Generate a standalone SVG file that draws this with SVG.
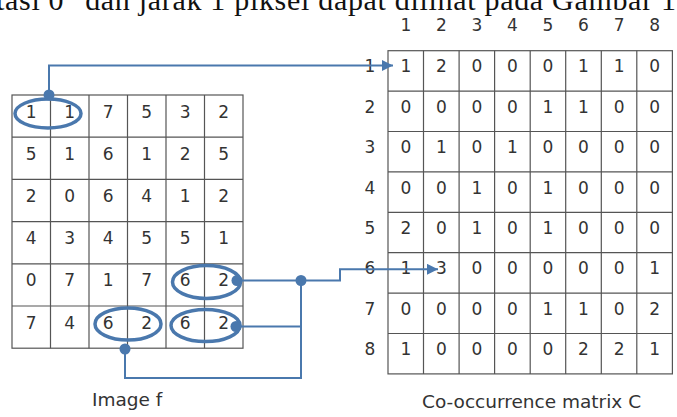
<svg xmlns="http://www.w3.org/2000/svg" width="677" height="417" viewBox="0 0 677 417">
<style>
  .grid { fill: #ffffff; stroke: #555555; stroke-width: 1.2; }
  .gl { stroke: #555555; stroke-width: 1.2; }
  .d { font-family: "DejaVu Sans", Verdana, sans-serif; font-size: 17px; fill: #333333; text-anchor: middle; }
  .lbl { font-family: "DejaVu Sans", Verdana, sans-serif; font-size: 18.5px; fill: #333333; }
  .head { font-family: "Liberation Serif", "Times New Roman", serif; font-size: 30px; fill: #111111; }
  .ell { fill: none; stroke: #4a78ad; stroke-width: 3.5; }
  .con { fill: none; stroke: #4a78ad; stroke-width: 2; }
  .dot { fill: #4a78ad; }
</style>
<defs>
  <marker id="ah" markerUnits="userSpaceOnUse" markerWidth="11" markerHeight="11" viewBox="0 0 10 10" refX="10" refY="5" orient="auto">
    <path d="M0,0 L10,5 L0,10 z" fill="#4a78ad"/>
  </marker>
</defs>
<rect width="677" height="417" fill="#ffffff"/>
<text class="head" x="-4" y="10" textLength="680" lengthAdjust="spacing">tasi 0° dan jarak 1 piksel dapat dilihat pada Gambar 1</text>

<g id="image-f">
  <rect class="grid" x="12" y="95" width="231" height="253.2"/>
  <path class="gl" d="M50.5,95V348.2M89,95V348.2M127.5,95V348.2M166,95V348.2M204.5,95V348.2M12,137.2H243M12,179.4H243M12,221.6H243M12,263.8H243M12,306H243"/>
  <g class="d">
    <text x="31.25" y="117.5">1</text><text x="69.75" y="117.5">1</text><text x="108.25" y="117.5">7</text><text x="146.75" y="117.5">5</text><text x="185.25" y="117.5">3</text><text x="223.75" y="117.5">2</text>
    <text x="31.25" y="159.7">5</text><text x="69.75" y="159.7">1</text><text x="108.25" y="159.7">6</text><text x="146.75" y="159.7">1</text><text x="185.25" y="159.7">2</text><text x="223.75" y="159.7">5</text>
    <text x="31.25" y="201.9">2</text><text x="69.75" y="201.9">0</text><text x="108.25" y="201.9">6</text><text x="146.75" y="201.9">4</text><text x="185.25" y="201.9">1</text><text x="223.75" y="201.9">2</text>
    <text x="31.25" y="244.1">4</text><text x="69.75" y="244.1">3</text><text x="108.25" y="244.1">4</text><text x="146.75" y="244.1">5</text><text x="185.25" y="244.1">5</text><text x="223.75" y="244.1">1</text>
    <text x="31.25" y="286.3">0</text><text x="69.75" y="286.3">7</text><text x="108.25" y="286.3">1</text><text x="146.75" y="286.3">7</text><text x="185.25" y="286.3">6</text><text x="223.75" y="286.3">2</text>
    <text x="31.25" y="328.5">7</text><text x="69.75" y="328.5">4</text><text x="108.25" y="328.5">6</text><text x="146.75" y="328.5">2</text><text x="185.25" y="328.5">6</text><text x="223.75" y="328.5">2</text>
  </g>
  <text class="lbl" x="92" y="406">Image f</text>
</g>

<g id="matrix-c">
  <rect class="grid" x="388" y="50.7" width="284.4" height="323.2"/>
  <path class="gl" d="M423.5,50.7V373.9M459.1,50.7V373.9M494.6,50.7V373.9M530.2,50.7V373.9M565.7,50.7V373.9M601.3,50.7V373.9M636.8,50.7V373.9M388,91.1H672.4M388,131.5H672.4M388,171.9H672.4M388,212.3H672.4M388,252.7H672.4M388,293.1H672.4M388,333.5H672.4"/>
  <g class="d">
    <text x="405.8" y="30.5">1</text><text x="441.3" y="30.5">2</text><text x="476.9" y="30.5">3</text><text x="512.4" y="30.5">4</text><text x="548" y="30.5">5</text><text x="583.5" y="30.5">6</text><text x="619.1" y="30.5">7</text><text x="654.6" y="30.5">8</text>
    <text x="370" y="72.3">1</text><text x="370" y="112.7">2</text><text x="370" y="153.1">3</text><text x="370" y="193.5">4</text><text x="370" y="233.9">5</text><text x="370" y="274.3">6</text><text x="370" y="314.7">7</text><text x="370" y="355.1">8</text>
    <text x="405.8" y="72.3">1</text><text x="441.3" y="72.3">2</text><text x="476.9" y="72.3">0</text><text x="512.4" y="72.3">0</text><text x="548" y="72.3">0</text><text x="583.5" y="72.3">1</text><text x="619.1" y="72.3">1</text><text x="654.6" y="72.3">0</text>
    <text x="405.8" y="112.7">0</text><text x="441.3" y="112.7">0</text><text x="476.9" y="112.7">0</text><text x="512.4" y="112.7">0</text><text x="548" y="112.7">1</text><text x="583.5" y="112.7">1</text><text x="619.1" y="112.7">0</text><text x="654.6" y="112.7">0</text>
    <text x="405.8" y="153.1">0</text><text x="441.3" y="153.1">1</text><text x="476.9" y="153.1">0</text><text x="512.4" y="153.1">1</text><text x="548" y="153.1">0</text><text x="583.5" y="153.1">0</text><text x="619.1" y="153.1">0</text><text x="654.6" y="153.1">0</text>
    <text x="405.8" y="193.5">0</text><text x="441.3" y="193.5">0</text><text x="476.9" y="193.5">1</text><text x="512.4" y="193.5">0</text><text x="548" y="193.5">1</text><text x="583.5" y="193.5">0</text><text x="619.1" y="193.5">0</text><text x="654.6" y="193.5">0</text>
    <text x="405.8" y="233.9">2</text><text x="441.3" y="233.9">0</text><text x="476.9" y="233.9">1</text><text x="512.4" y="233.9">0</text><text x="548" y="233.9">1</text><text x="583.5" y="233.9">0</text><text x="619.1" y="233.9">0</text><text x="654.6" y="233.9">0</text>
    <text x="405.8" y="274.3">1</text><text x="441.3" y="274.3">3</text><text x="476.9" y="274.3">0</text><text x="512.4" y="274.3">0</text><text x="548" y="274.3">0</text><text x="583.5" y="274.3">0</text><text x="619.1" y="274.3">0</text><text x="654.6" y="274.3">1</text>
    <text x="405.8" y="314.7">0</text><text x="441.3" y="314.7">0</text><text x="476.9" y="314.7">0</text><text x="512.4" y="314.7">0</text><text x="548" y="314.7">1</text><text x="583.5" y="314.7">1</text><text x="619.1" y="314.7">0</text><text x="654.6" y="314.7">2</text>
    <text x="405.8" y="355.1">1</text><text x="441.3" y="355.1">0</text><text x="476.9" y="355.1">0</text><text x="512.4" y="355.1">0</text><text x="548" y="355.1">0</text><text x="583.5" y="355.1">2</text><text x="619.1" y="355.1">2</text><text x="654.6" y="355.1">1</text>
  </g>
  <text class="lbl" x="422" y="408">Co-occurrence matrix C</text>
</g>

<g id="connectors">
  <ellipse class="ell" cx="48" cy="113.5" rx="33" ry="14.5"/>
  <ellipse class="ell" cx="206.5" cy="282" rx="34" ry="16.5"/>
  <ellipse class="ell" cx="128" cy="324" rx="33" ry="16"/>
  <ellipse class="ell" cx="205.5" cy="325.5" rx="34.5" ry="16"/>
  <path class="con" d="M49,95V65.5H393" marker-end="url(#ah)"/>
  <path class="con" d="M237,280.5H340V269.3H438" marker-end="url(#ah)"/>
  <path class="con" d="M236,326.5H301"/>
  <path class="con" d="M301,280.5V378H125V349"/>
  <circle class="dot" cx="49" cy="95" r="5.5"/>
  <circle class="dot" cx="237" cy="280.5" r="5.5"/>
  <circle class="dot" cx="301" cy="280.5" r="5.5"/>
  <circle class="dot" cx="236" cy="326.5" r="5.5"/>
  <circle class="dot" cx="125" cy="349" r="5.5"/>
</g>
</svg>
